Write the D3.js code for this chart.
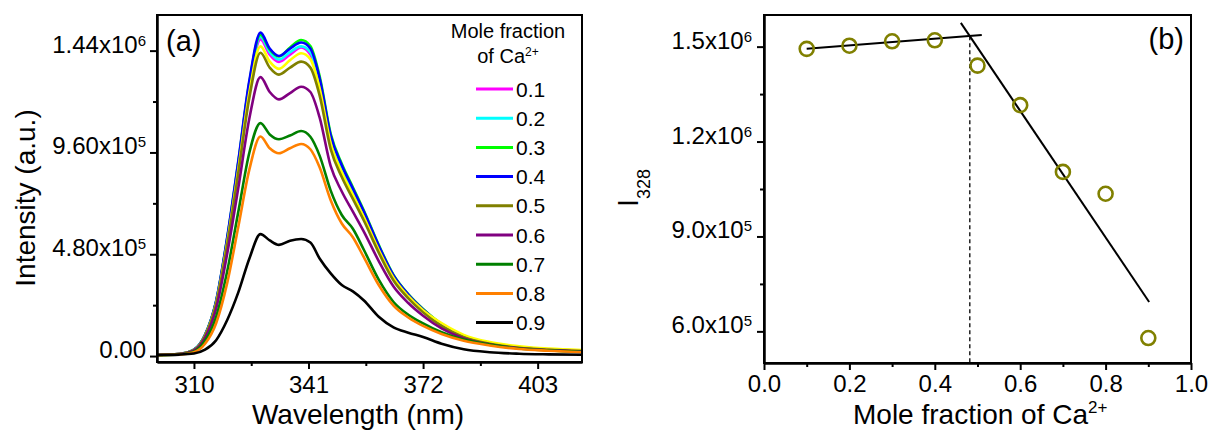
<!DOCTYPE html>
<html>
<head>
<meta charset="utf-8">
<script src="https://cdn.jsdelivr.net/npm/d3@7"></script>
<style>
body { margin: 0; background: #fff; }
text { font-family: "Liberation Sans", Arial, sans-serif; fill: #000; }
</style>
</head>
<body>
<div id="chart"></div>
<script>
// ---- panel (a): emission spectra, intensity in units of 10^6 ----
var wavelength = [300,306,310,313,316,319,322,325,328,330.5,333,336,339,341.5,344,347,350,353,356,360,364,368,372,377,383,390,398,406,415];
var s01 = [0.005,0.010,0.029,0.098,0.255,0.549,0.902,1.274,1.493,1.421,1.387,1.421,1.455,1.421,1.284,1.019,0.882,0.774,0.666,0.510,0.372,0.284,0.216,0.147,0.093,0.061,0.041,0.031,0.025];
var s02 = [0.005,0.010,0.030,0.099,0.257,0.553,0.909,1.284,1.506,1.433,1.398,1.433,1.460,1.433,1.294,1.028,0.889,0.781,0.672,0.514,0.375,0.287,0.217,0.148,0.094,0.061,0.041,0.032,0.025];
var s03 = [0.005,0.010,0.030,0.099,0.258,0.556,0.914,1.292,1.515,1.445,1.412,1.455,1.490,1.462,1.320,1.048,0.907,0.796,0.685,0.524,0.383,0.292,0.222,0.151,0.096,0.062,0.042,0.032,0.025];
var s04 = [0.005,0.010,0.030,0.100,0.260,0.560,0.920,1.300,1.525,1.450,1.415,1.450,1.478,1.450,1.310,1.040,0.900,0.790,0.680,0.520,0.380,0.290,0.220,0.150,0.095,0.062,0.042,0.032,0.025];
var sYellow = [0.005,0.010,0.029,0.096,0.249,0.536,0.880,1.244,1.460,1.388,1.354,1.395,1.428,1.400,1.262,1.003,0.866,0.760,0.654,0.500,0.368,0.282,0.216,0.155,0.100,0.066,0.046,0.035,0.028];
var s05 = [0.005,0.010,0.028,0.094,0.244,0.525,0.863,1.219,1.430,1.360,1.327,1.360,1.388,1.360,1.229,0.976,0.844,0.741,0.638,0.488,0.356,0.272,0.206,0.141,0.089,0.058,0.039,0.030,0.024];
var s06 = [0.005,0.010,0.027,0.086,0.224,0.483,0.793,1.121,1.315,1.245,1.210,1.240,1.270,1.245,1.125,0.895,0.776,0.681,0.586,0.448,0.328,0.250,0.190,0.130,0.083,0.055,0.037,0.028,0.022];
var s07 = [0.004,0.008,0.022,0.072,0.185,0.400,0.680,0.960,1.098,1.045,1.022,1.040,1.061,1.034,0.945,0.780,0.665,0.600,0.500,0.360,0.255,0.195,0.154,0.112,0.078,0.054,0.036,0.027,0.020];
var s08 = [0.004,0.007,0.018,0.058,0.155,0.345,0.610,0.880,1.035,0.980,0.956,0.980,1.000,0.975,0.890,0.735,0.625,0.560,0.465,0.335,0.238,0.182,0.142,0.104,0.072,0.050,0.033,0.025,0.018];
var s09 = [0.005,0.007,0.012,0.030,0.075,0.170,0.300,0.460,0.575,0.545,0.524,0.544,0.552,0.535,0.460,0.390,0.335,0.305,0.262,0.185,0.135,0.110,0.090,0.058,0.032,0.018,0.011,0.008,0.006];

var legendNames = ["0.1","0.2","0.3","0.4","0.5","0.6","0.7","0.8","0.9"];
var legendColors = ["#ff00ff","#00ffff","#00ff00","#0000ff","#808000","#800080","#008000","#ff8000","#000000"];
// drawing order (yellow trace has no legend entry)
var drawSeries = [s01, s02, s03, s04, sYellow, s05, s06, s07, s08, s09];
var drawColors = ["#ff00ff","#00ffff","#00ff00","#0000ff","#ffff00","#808000","#800080","#008000","#ff8000","#000000"];

var xTicksA = [310, 341, 372, 403];
var xMinorA = [325.5, 356.5, 387.5];
var yTicksA = [0, 0.48, 0.96, 1.44];
var yTickLabelsA = [["0.00",""],["4.80x10","5"],["9.60x10","5"],["1.44x10","6"]];
var yMinorA = [0.24, 0.72, 1.20];

// ---- panel (b): I328 vs mole fraction ----
var moleFraction = [0.1,0.2,0.3,0.4,0.5,0.6,0.7,0.8,0.9];
var i328 = [1.493e6,1.503e6,1.517e6,1.520e6,1.440e6,1.315e6,1.104e6,1.035e6,0.579e6];
var fitLow = [[0.1,1.493e6],[0.51,1.537e6]];
var fitHigh = [[0.461,1.575e6],[0.902,0.693e6]];
var breakX = [[0.482,1.533e6],[0.482,0.5e6]];

var xTicksB = [0,0.2,0.4,0.6,0.8,1.0];
var xMinorB = [0.1,0.3,0.5,0.7,0.9];
var yTicksB = [6e5, 9e5, 1.2e6, 1.5e6];
var yTickLabelsB = [["6.0x10","5"],["9.0x10","5"],["1.2x10","6"],["1.5x10","6"]];
var yMinorB = [7.5e5, 1.05e6, 1.35e6];

var width = 1209, height = 433;
var svg = d3.select("#chart").append("svg")
	.attr("width", width)
	.attr("height", height);
svg.append("rect").attr("width", width).attr("height", height).attr("fill", "#fff");

function styleAxis(g) {
	g.selectAll("path.domain").attr("stroke-width", 2);
	g.selectAll(".tick line").attr("stroke-width", 2);
	g.selectAll(".tick text").attr("font-size", "24px").attr("fill", "#000");
}

function addSup(g, labels, supSize) {
	g.selectAll(".tick text")
		.attr("dy", "1.5")
		.each(function(d, i) {
			if (labels[i][1]) {
				d3.select(this).append("tspan")
					.attr("dy", -7)
					.attr("font-size", supSize)
					.text(labels[i][1]);
			}
		});
}

// ================= panel (a) =================
var boxA = {left: 157, right: 582, top: 15, bottom: 362};
var xa = d3.scaleLinear().domain([300, 415]).range([boxA.left, boxA.right]);
var ya = d3.scaleLinear().domain([-0.028, 1.608]).range([boxA.bottom, boxA.top]);

var pa = svg.append("g").attr("class", "panelA");

var line = d3.line()
	.x(function(d, i) { return xa(wavelength[i]); })
	.y(function(d) { return ya(d); })
	.curve(d3.curveMonotoneX);

pa.append("defs").append("clipPath").attr("id", "clipA")
	.append("rect")
	.attr("x", boxA.left).attr("y", boxA.top)
	.attr("width", boxA.right - boxA.left).attr("height", boxA.bottom - boxA.top);

pa.append("g").attr("clip-path", "url(#clipA)")
	.selectAll("path")
	.data(drawSeries)
	.enter()
	.append("path")
	.attr("d", line)
	.attr("fill", "none")
	.attr("stroke", function(d, i) { return drawColors[i]; })
	.attr("stroke-width", 2.6)
	.attr("stroke-linejoin", "round");

// axes
var gxa = pa.append("g")
	.attr("transform", "translate(0," + boxA.bottom + ")")
	.call(d3.axisBottom(xa).tickValues(xTicksA).tickSize(7).tickSizeOuter(0).tickPadding(7).tickFormat(d3.format("d")));
styleAxis(gxa);
pa.append("g")
	.attr("transform", "translate(0," + boxA.bottom + ")")
	.call(d3.axisBottom(xa).tickValues(xMinorA).tickSize(4).tickSizeOuter(0).tickFormat(""))
	.call(styleAxis);

var gya = pa.append("g")
	.attr("transform", "translate(" + boxA.left + ",0)")
	.call(d3.axisLeft(ya).tickValues(yTicksA).tickSize(7).tickSizeOuter(0).tickPadding(4)
		.tickFormat(function(d, i) { return yTickLabelsA[i][0]; }));
styleAxis(gya);
addSup(gya, yTickLabelsA, "15px");
pa.append("g")
	.attr("transform", "translate(" + boxA.left + ",0)")
	.call(d3.axisLeft(ya).tickValues(yMinorA).tickSize(4).tickSizeOuter(0).tickFormat(""))
	.call(styleAxis);

pa.append("rect")
	.attr("x", boxA.left).attr("y", boxA.top)
	.attr("width", boxA.right - boxA.left).attr("height", boxA.bottom - boxA.top)
	.attr("fill", "none").attr("stroke", "#000").attr("stroke-width", 2);

pa.append("text")
	.attr("x", 166).attr("y", 51)
	.attr("font-size", "29px")
	.text("(a)");

pa.append("text")
	.attr("x", 358).attr("y", 424)
	.attr("text-anchor", "middle")
	.attr("font-size", "28px")
	.text("Wavelength (nm)");

pa.append("text")
	.attr("transform", "translate(35,198) rotate(-90)")
	.attr("text-anchor", "middle")
	.attr("font-size", "28px")
	.text("Intensity (a.u.)");

// legend
var legend = pa.append("g").attr("class", "legend");
legend.append("text")
	.attr("x", 508).attr("y", 38)
	.attr("text-anchor", "middle")
	.attr("font-size", "20px")
	.text("Mole fraction");
var lt = legend.append("text")
	.attr("x", 508).attr("y", 63)
	.attr("text-anchor", "middle")
	.attr("font-size", "20px");
lt.append("tspan").text("of Ca");
lt.append("tspan").attr("dy", -7).attr("font-size", "12px").text("2+");

var items = legend.selectAll("g.item")
	.data(legendNames)
	.enter()
	.append("g")
	.attr("class", "item")
	.attr("transform", function(d, i) { return "translate(0," + (89 + i * 29.2) + ")"; });
items.append("line")
	.attr("x1", 476).attr("x2", 513)
	.attr("stroke", function(d, i) { return legendColors[i]; })
	.attr("stroke-width", 3);
items.append("text")
	.attr("x", 516).attr("y", 7.5)
	.attr("font-size", "21px")
	.text(function(d) { return d; });

// ================= panel (b) =================
var boxB = {left: 764, right: 1191, top: 15, bottom: 363};
var xb = d3.scaleLinear().domain([0, 1]).range([boxB.left, boxB.right]);
var yb = d3.scaleLinear().domain([0.5e6, 1.6e6]).range([boxB.bottom, boxB.top]);

var pb = svg.append("g").attr("class", "panelB");

var fline = d3.line()
	.x(function(d) { return xb(d[0]); })
	.y(function(d) { return yb(d[1]); });

pb.append("path")
	.datum(breakX)
	.attr("d", fline)
	.attr("stroke", "#000")
	.attr("stroke-width", 1.3)
	.attr("stroke-dasharray", "4,3")
	.attr("fill", "none");

pb.selectAll("path.fit")
	.data([fitLow, fitHigh])
	.enter()
	.append("path")
	.attr("class", "fit")
	.attr("d", fline)
	.attr("stroke", "#000")
	.attr("stroke-width", 2)
	.attr("fill", "none");

pb.selectAll("circle")
	.data(moleFraction)
	.enter()
	.append("circle")
	.attr("cx", function(d) { return xb(d); })
	.attr("cy", function(d, i) { return yb(i328[i]); })
	.attr("r", 7)
	.attr("fill", "none")
	.attr("stroke", "#808000")
	.attr("stroke-width", 2.6);

var gxb = pb.append("g")
	.attr("transform", "translate(0," + boxB.bottom + ")")
	.call(d3.axisBottom(xb).tickValues(xTicksB).tickSize(7).tickSizeOuter(0).tickPadding(5).tickFormat(d3.format(".1f")));
styleAxis(gxb);
pb.append("g")
	.attr("transform", "translate(0," + boxB.bottom + ")")
	.call(d3.axisBottom(xb).tickValues(xMinorB).tickSize(4).tickSizeOuter(0).tickFormat(""))
	.call(styleAxis);

var gyb = pb.append("g")
	.attr("transform", "translate(" + boxB.left + ",0)")
	.call(d3.axisLeft(yb).tickValues(yTicksB).tickSize(7).tickSizeOuter(0).tickPadding(5)
		.tickFormat(function(d, i) { return yTickLabelsB[i][0]; }));
styleAxis(gyb);
addSup(gyb, yTickLabelsB, "15px");
pb.append("g")
	.attr("transform", "translate(" + boxB.left + ",0)")
	.call(d3.axisLeft(yb).tickValues(yMinorB).tickSize(4).tickSizeOuter(0).tickFormat(""))
	.call(styleAxis);

pb.append("rect")
	.attr("x", boxB.left).attr("y", boxB.top)
	.attr("width", boxB.right - boxB.left).attr("height", boxB.bottom - boxB.top)
	.attr("fill", "none").attr("stroke", "#000").attr("stroke-width", 2);

pb.append("text")
	.attr("x", 1184).attr("y", 49)
	.attr("text-anchor", "end")
	.attr("font-size", "29px")
	.text("(b)");

var xt = pb.append("text")
	.attr("x", 853).attr("y", 424)
	.attr("font-size", "28px");
xt.append("tspan").text("Mole fraction of Ca");
xt.append("tspan").attr("dy", -11).attr("font-size", "17px").text("2+");

var yt = pb.append("text")
	.attr("transform", "translate(638,207) rotate(-90)");
yt.append("tspan").attr("font-size", "29px").text("I");
yt.append("tspan").attr("dy", 12).attr("font-size", "18px").text("328");
</script>
</body>
</html>
